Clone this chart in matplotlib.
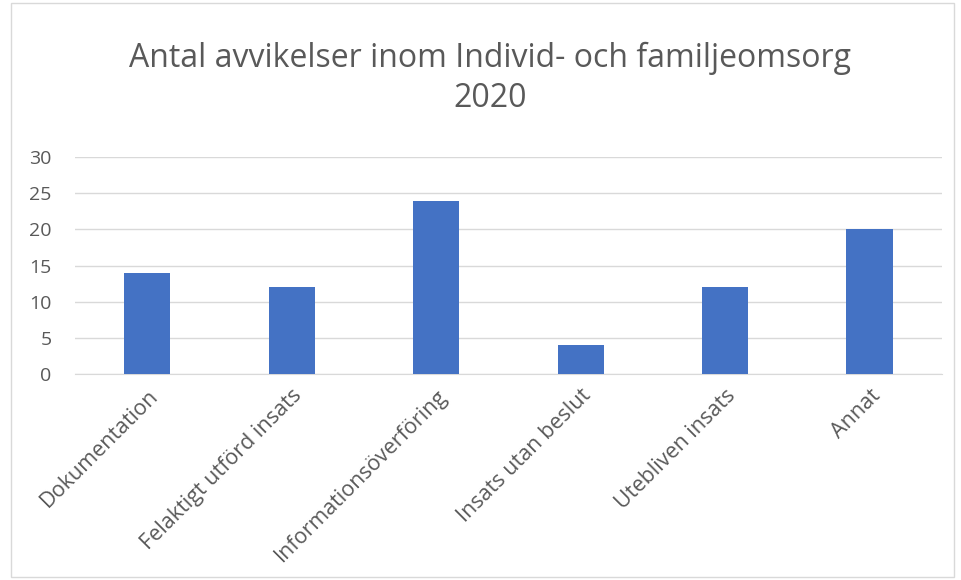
import matplotlib
matplotlib.use('Agg')
import matplotlib.pyplot as plt

categories = ['Dokumentation', 'Felaktigt utförd insats', 'Informationsöverföring',
              'Insats utan beslut', 'Utebliven insats', 'Annat']
values = [14, 12, 24, 4, 12, 20]
yticks = [0, 5, 10, 15, 20, 25, 30]

plt.rcParams['font.family'] = ['Open Sans', 'DejaVu Sans']
textcol = '#595959'

fig = plt.figure(figsize=(9.62, 5.8), dpi=100)
ax = fig.add_axes([0.078, 0.355, 0.901, 0.374])

x = range(len(categories))
ax.bar(x, values, width=0.32, color='#4472C4', zorder=3)

ax.set_xlim(-0.5, len(categories) - 0.5)
ax.set_ylim(0, 30)
ax.set_yticks(yticks)
ax.set_xticks(list(x))
ax.set_xticklabels(categories, rotation=45, ha='right', rotation_mode='anchor')
ax.tick_params(axis='y', length=0, pad=17, labelsize=14, labelcolor=textcol)
ax.tick_params(axis='x', length=0, pad=8, labelsize=15.5, labelcolor=textcol)
ax.grid(axis='y', color='#D9D9D9', linewidth=1, zorder=0)
for s in ['top', 'right', 'left']:
    ax.spines[s].set_visible(False)
ax.spines['bottom'].set_color('#D9D9D9')

fig.text(0.509, 0.865, 'Antal avvikelser inom Individ- och familjeomsorg\n2020',
         ha='center', va='center', fontsize=23, color=textcol, linespacing=1.25)

# chart border
fig.patches.append(plt.Rectangle((0.0115, 0.005), 0.98, 0.99, transform=fig.transFigure,
                                 fill=False, edgecolor='#D9D9D9', linewidth=1))

fig.savefig('out.png', dpi=100)
